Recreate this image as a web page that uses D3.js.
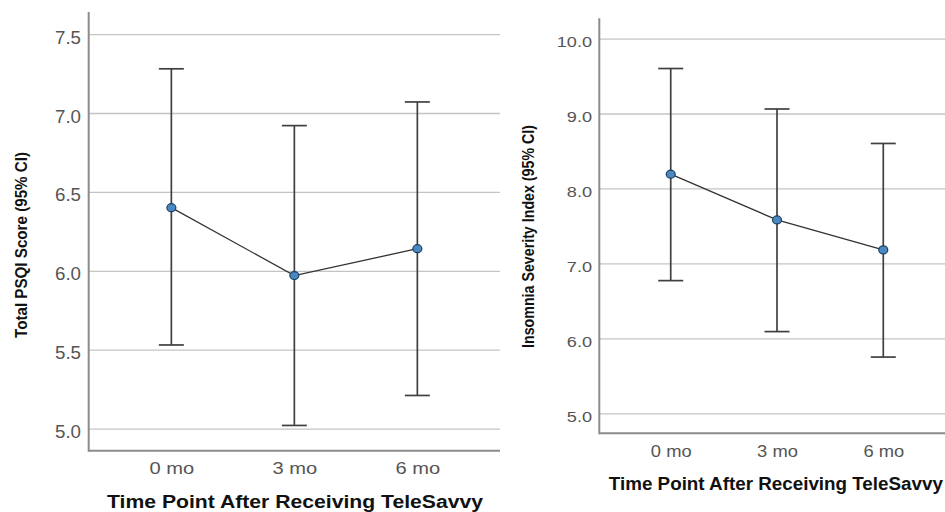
<!DOCTYPE html>
<html>
<head>
<meta charset="utf-8">
<script src="https://cdn.jsdelivr.net/npm/d3@7"></script>
<style>
    body { margin: 0; background: #fff; }
    svg { display: block; font-family: "Liberation Sans", Arial, sans-serif; }
    .grid line { stroke: #c4c4c4; stroke-width: 1.3; }
    .grid .domain { display: none; }
    .ticklab text { fill: #555; }
    .ticklab .domain, .ticklab line { display: none; }
    .axisline { stroke: #8c8c8c; stroke-width: 2; }
    .bar { stroke: #404040; stroke-width: 1.7; fill: none; }
    .meanline { stroke: #333; stroke-width: 1.3; fill: none; }
    .dot { fill: #4a88c2; stroke: #1d3f63; stroke-width: 1.2; }
    .title { font-weight: bold; fill: #111; }
</style>
</head>
<body>
<div id="main"></div>
<script>
var ctx = {
    w: 945,
    h: 512,
    cap: 12.5,
};

// the data
var categories = ["0 mo", "3 mo", "6 mo"];
var psqiMean = [6.40, 5.97, 6.14];
var psqiLower = [5.53, 5.02, 5.21];
var psqiUpper = [7.28, 6.92, 7.07];
var psqiTicks = [5.0, 5.5, 6.0, 6.5, 7.0, 7.5];
var isiMean = [8.19, 7.58, 7.18];
var isiLower = [6.77, 6.09, 5.75];
var isiUpper = [9.60, 9.06, 8.60];
var isiTicks = [5.0, 6.0, 7.0, 8.0, 9.0, 10.0];
var xTitle = "Time Point After Receiving TeleSavvy";

var drawPanel = function(svg, p) {
    var g = svg.append("g");

    var x = d3.scalePoint()
        .domain(categories)
        .range([p.left, p.right])
        .padding(0.672);
    var y = d3.scaleLinear()
        .domain(p.domain)
        .range([p.bottom, p.top]);

    // gridlines
    g.append("g")
        .attr("class", "grid")
        .attr("transform", "translate(" + p.left + ",0)")
        .call(d3.axisRight(y).tickValues(p.ticks).tickSize(p.right - p.left).tickFormat(""));

    // y tick labels, stretched a bit like the picture
    g.append("g")
        .attr("class", "ticklab")
        .attr("transform", "translate(" + p.left + ",0)")
        .call(d3.axisLeft(y).tickValues(p.ticks).tickSize(0).tickFormat(d3.format(".1f")))
        .selectAll("text")
        .attr("font-size", p.yFont)
        .attr("dy", null)
        .attr("y", p.yBase)
        .attr("x", -p.yPad / p.ySx)
        .attr("transform", "scale(" + p.ySx + ",1)");

    // x tick labels
    g.append("g")
        .attr("class", "ticklab")
        .attr("transform", "translate(0," + p.bottom + ")")
        .call(d3.axisBottom(x).tickSize(0))
        .selectAll("text")
        .attr("font-size", p.xFont)
        .attr("dy", null)
        .attr("y", p.xBase)
        .attr("transform", "scale(" + p.xSx + ",1)");

    // the axis lines
    g.append("line").attr("class", "axisline")
        .attr("x1", p.left).attr("x2", p.left)
        .attr("y1", p.top).attr("y2", p.bottom + 1);
    g.append("line").attr("class", "axisline")
        .attr("x1", p.left).attr("x2", p.right)
        .attr("y1", p.bottom).attr("y2", p.bottom);

    // error bars
    var bars = g.selectAll(".errbar")
        .data(categories)
        .enter().append("g")
        .attr("class", "errbar");
    bars.append("line").attr("class", "bar")
        .attr("x1", function(d) { return x(d); })
        .attr("x2", function(d) { return x(d); })
        .attr("y1", function(d, i) { return y(p.lower[i]); })
        .attr("y2", function(d, i) { return y(p.upper[i]); });
    bars.append("line").attr("class", "bar")
        .attr("x1", function(d) { return x(d) - ctx.cap; })
        .attr("x2", function(d) { return x(d) + ctx.cap; })
        .attr("y1", function(d, i) { return y(p.upper[i]); })
        .attr("y2", function(d, i) { return y(p.upper[i]); });
    bars.append("line").attr("class", "bar")
        .attr("x1", function(d) { return x(d) - ctx.cap; })
        .attr("x2", function(d) { return x(d) + ctx.cap; })
        .attr("y1", function(d, i) { return y(p.lower[i]); })
        .attr("y2", function(d, i) { return y(p.lower[i]); });

    // the line through the means
    var line = d3.line()
        .x(function(d, i) { return x(categories[i]); })
        .y(function(d) { return y(d); });
    g.append("path").attr("class", "meanline").attr("d", line(p.mean));

    g.selectAll(".dot")
        .data(p.mean)
        .enter().append("ellipse")
        .attr("class", "dot")
        .attr("cx", function(d, i) { return x(categories[i]); })
        .attr("cy", function(d) { return y(d); })
        .attr("rx", 4.5)
        .attr("ry", 4);

    // titles
    g.append("text").attr("class", "title")
        .attr("x", (p.left + p.xTitleEnd) / 2 + p.xTitleShift)
        .attr("y", p.xTitleBase)
        .attr("text-anchor", "middle")
        .attr("font-size", 18)
        .attr("textLength", p.xTitleLen)
        .attr("lengthAdjust", "spacingAndGlyphs")
        .text(xTitle);

    g.append("text").attr("class", "title")
        .attr("transform", "translate(" + p.yTitleX + "," + p.yTitleY + ") rotate(-90)")
        .attr("text-anchor", "middle")
        .attr("font-size", 16.5)
        .attr("textLength", p.yTitleLen)
        .attr("lengthAdjust", "spacingAndGlyphs")
        .text(p.yTitle);
};

var createViz = function() {
    var svg = d3.select("#main").append("svg")
        .attr("width", ctx.w)
        .attr("height", ctx.h);

    drawPanel(svg, {
        left: 88.7, right: 500, top: 12, bottom: 450.7,
        domain: [4.86, 7.64], ticks: psqiTicks,
        mean: psqiMean, lower: psqiLower, upper: psqiUpper,
        yFont: 17.5, ySx: 1.07, yPad: 7.7, yBase: 9,
        xFont: 16.5, xSx: 1.22, xBase: 23.3,
        xTitleEnd: 500, xTitleShift: 0.7, xTitleBase: 507.5, xTitleLen: 376,
        yTitle: "Total PSQI Score (95% CI)", yTitleX: 27, yTitleY: 245, yTitleLen: 186
    });

    drawPanel(svg, {
        left: 599.3, right: 954.7, top: 18.3, bottom: 433.3,
        domain: [4.733, 10.27], ticks: isiTicks,
        mean: isiMean, lower: isiLower, upper: isiUpper,
        yFont: 15.5, ySx: 1.17, yPad: 7.3, yBase: 8.4,
        xFont: 17, xSx: 1.08, xBase: 24,
        xTitleEnd: 945, xTitleShift: 3.7, xTitleBase: 489.5, xTitleLen: 334,
        yTitle: "Insomnia Severity Index (95% CI)", yTitleX: 534, yTitleY: 236.5, yTitleLen: 223
    });
};

createViz();
</script>
</body>
</html>
